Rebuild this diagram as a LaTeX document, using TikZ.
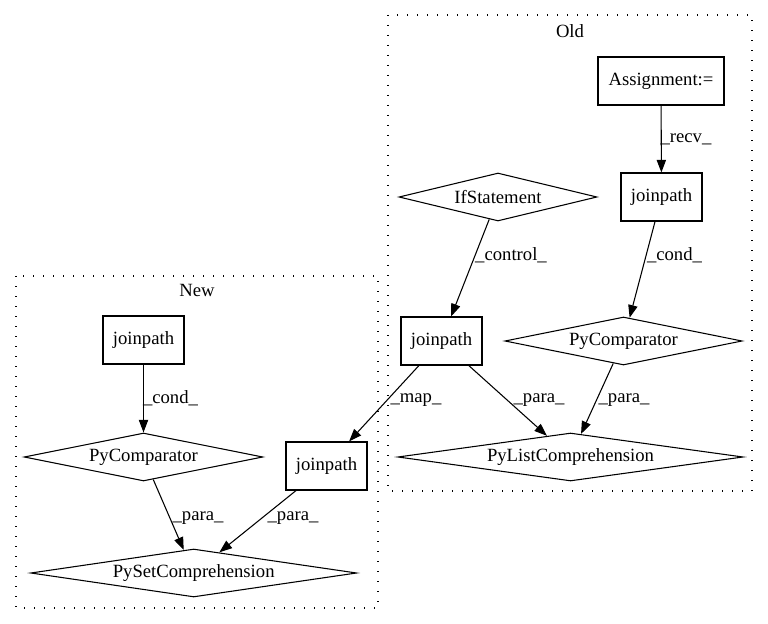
\documentclass[tikz,border=0pt]{standalone}
\usepackage{fontspec}
\setmainfont{Liberation Serif}
\usetikzlibrary{shapes.geometric}
\usetikzlibrary{arrows.meta}

\begin{document}
\begin{tikzpicture}[x=0.75pt,y=-0.75pt,font=\fontsize{14}{16}\selectfont,line width=0.8pt,
  box/.style={draw,rectangle,inner sep=0pt,minimum width=60.75pt,minimum height=36pt},
  dia/.style={draw,diamond,shape aspect=6,inner sep=0pt,minimum height=36pt},
  lbl/.style={inner sep=0pt},
  edge/.style={-{Triangle[length=9.5pt,width=7pt]}},
  cluster/.style={draw,dash pattern=on 1pt off 6.5pt}]
  \useasboundingbox (0,0) rectangle (768,624);
  % clusters
  \draw[cluster] (388,15) rectangle (752,491);
  \draw[cluster] (16,276) rectangle (378,608);
  \node (old) at (570,31) {Old};
  \node (new) at (197,290) {New};

  % old
  \node[box,minimum width=94.5pt] (assign) at (661,81) {Assignment:=};
  \node[box] (jp1) at (661.5,197) {joinpath};
  \node[dia,minimum width=148.5pt] (ifst) at (498,197) {IfStatement};
  \node[box] (jp2) at (441.5,341) {joinpath};
  \node[dia,minimum width=178pt] (cmp1) at (623.5,341) {PyComparator};
  \node[dia,minimum width=259pt] (listc) at (570.5,457) {PyListComprehension};

  % new
  \node[box] (jp3) at (143.5,340) {joinpath};
  \node[dia,minimum width=179pt] (cmp2) at (143.5,457) {PyComparator};
  \node[box] (jp4) at (326.5,466) {joinpath};
  \node[dia,minimum width=244.5pt] (setc) at (193.7,573) {PySetComprehension};

  \draw[edge] (assign)--(jp1);
  \draw[edge] (ifst)--(jp2);
  \draw[edge] (jp1)--(cmp1);
  \draw[edge] (jp2)--(listc);
  \draw[edge] (cmp1)--(listc);
  \draw[edge] (jp2)--(jp4);
  \draw[edge] (jp3)--(cmp2);
  \draw[edge] (cmp2)--(setc);
  \draw[edge] (jp4)--(setc);

  \node[lbl] (l1) at (686,139) {\_recv\_};
  \node[lbl] (l2) at (511,255) {\_control\_};
  \node[lbl] (l3) at (674.5,255) {\_cond\_};
  \node[lbl] (l4) at (416,400) {\_map\_};
  \node[lbl] (l5) at (539,400) {\_para\_};
  \node[lbl] (l6) at (624,400) {\_para\_};
  \node[lbl] (l7) at (170.5,398) {\_cond\_};
  \node[lbl] (l8) at (198,518) {\_para\_};
  \node[lbl] (l9) at (293,518) {\_para\_};
\end{tikzpicture}
\end{document}
